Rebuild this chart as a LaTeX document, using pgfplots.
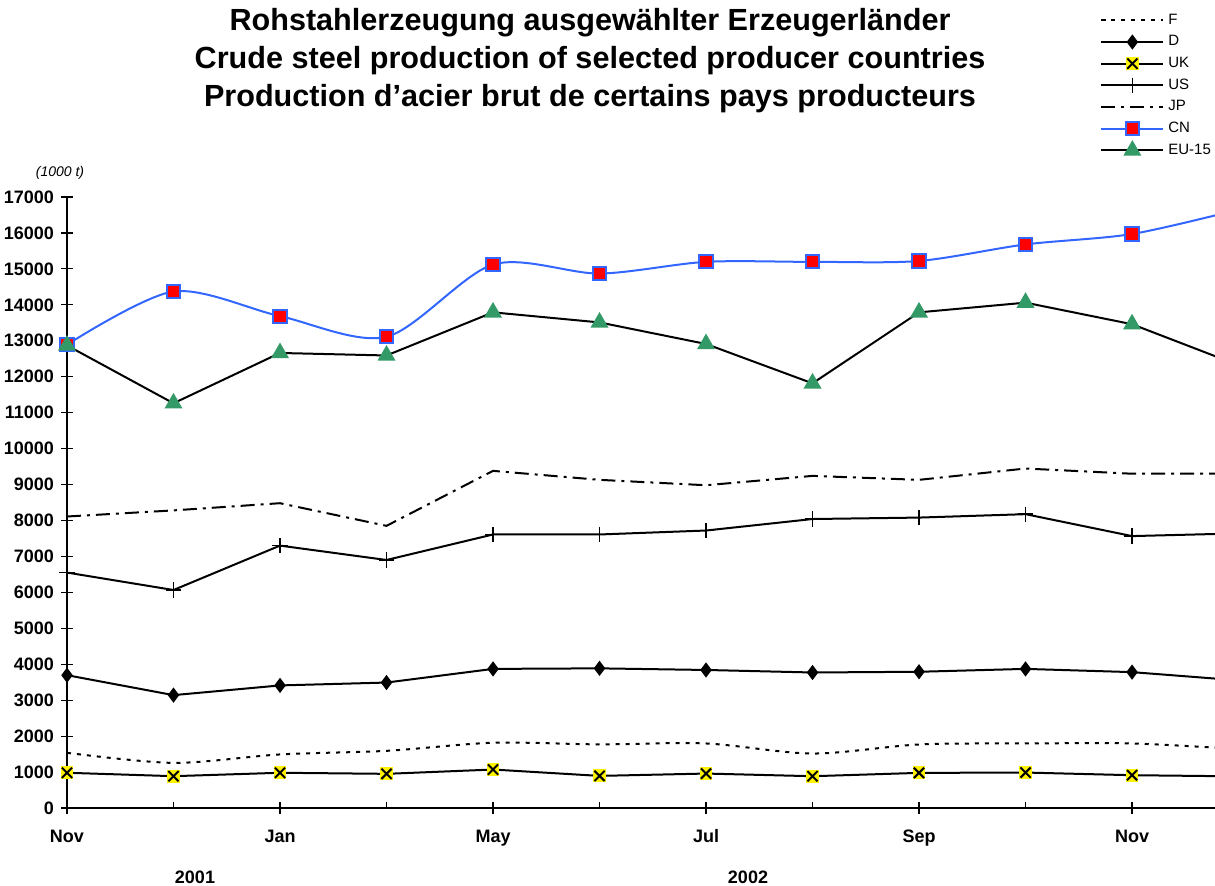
\documentclass[border=0pt]{standalone}
\usepackage{pgfplots}
\pgfplotsset{compat=1.18}
\usepackage{fontspec}
\setmainfont{Liberation Sans}
\definecolor{cnblue}{RGB}{51,102,255}
\definecolor{eugreen}{RGB}{51,153,102}
\pgfdeclareplotmark{ukmark}{%
  \pgfpathrectangle{\pgfqpoint{-\pgfplotmarksize}{-\pgfplotmarksize}}{\pgfqpoint{2\pgfplotmarksize}{2\pgfplotmarksize}}%
  \pgfsetfillcolor{yellow}\pgfusepathqfill
  \pgfsetstrokecolor{black}%
  \pgfpathmoveto{\pgfqpoint{-.8\pgfplotmarksize}{-.8\pgfplotmarksize}}%
  \pgfpathlineto{\pgfqpoint{.8\pgfplotmarksize}{.8\pgfplotmarksize}}%
  \pgfpathmoveto{\pgfqpoint{-.8\pgfplotmarksize}{.8\pgfplotmarksize}}%
  \pgfpathlineto{\pgfqpoint{.8\pgfplotmarksize}{-.8\pgfplotmarksize}}%
  \pgfusepathqstroke
}
\begin{document}
\begin{tikzpicture}
\path[use as bounding box] (0pt,0pt) rectangle (607.5pt,443pt);
\node[font=\bfseries\fontsize{15.3}{19}\selectfont, align=center] at (295pt,412.5pt)
 {Rohstahlerzeugung ausgewählter Erzeugerländer\\Crude steel production of selected producer countries\\Production d'acier brut de certains pays producteurs};
\node[font=\itshape\fontsize{7}{8}\selectfont] at (30pt,356.5pt) {(1000 t)};
\node[font=\bfseries\fontsize{9}{10}\selectfont] at (97.5pt,4.5pt) {2001};
\node[font=\bfseries\fontsize{9}{10}\selectfont] at (374pt,4.5pt) {2002};
\begin{axis}[
  at={(33.5pt,39pt)}, anchor=south west,
  scale only axis, width=574pt, height=305.5pt,
  xmin=0, xmax=10.779, ymin=0, ymax=17000,
  axis lines*=left,
  axis line style={line width=0.6pt},
  tick style={black, line width=0.6pt},
  tick align=center, major tick length=6pt,
  xtick={0,2,4,6,8,10},
  xticklabels={Nov,Jan,May,Jul,Sep,Nov},
  extra x ticks={1,3,5,7,9},
  extra x tick labels={},
  extra x tick style={tick align=inside, major tick length=3pt},
  ytick={0,1000,...,17000},
  scaled y ticks=false,
  /pgf/number format/assume math mode=true,
  /pgf/number format/1000 sep={},
  ticklabel style={font=\bfseries\fontsize{9}{10}\selectfont},
  xticklabel style={yshift=-3.5pt, text height=7pt, text depth=2pt},
  legend style={at={(0.8998,1.307)}, anchor=north west, draw=none, fill=none,
    font=\fontsize{7.5}{9}\selectfont, row sep=0.15pt, inner sep=0pt},
  legend cell align=left,
  legend image code/.code={\draw[mark repeat=2,mark phase=2] plot coordinates {(0pt,0pt) (15.5pt,0pt) (31pt,0pt)};},
]
\addplot[black, line width=1pt, smooth, dash pattern=on 2pt off 3pt] coordinates {
(0,1535)(1,1255)(2,1490)(3,1590)(4,1815)(5,1770)(6,1795)(7,1515)(8,1767)(9,1795)(10,1795)(11,1640)};
\addlegendentry{F}
\addplot[black, line width=1pt, mark=diamond*, mark size=3pt, mark options={solid, fill=black}] coordinates {
(0,3695)(1,3140)(2,3410)(3,3490)(4,3870)(5,3885)(6,3840)(7,3770)(8,3790)(9,3870)(10,3780)(11,3550)};
\addlegendentry{D}
\addplot[black, line width=1pt, mark=ukmark, mark size=3.2pt, mark options={solid, line width=1pt}] coordinates {
(0,980)(1,885)(2,980)(3,950)(4,1070)(5,893)(6,958)(7,884)(8,977)(9,986)(10,912)(11,880)};
\addlegendentry{UK}
\addplot[black, line width=1pt, mark=+, mark size=3.8pt, mark options={solid, line width=0.8pt}] coordinates {
(0,6550)(1,6065)(2,7300)(3,6900)(4,7610)(5,7610)(6,7720)(7,8040)(8,8080)(9,8175)(10,7565)(11,7640)};
\addlegendentry{US}
\addplot[black, line width=1pt, dash pattern=on 7pt off 3pt on 1.5pt off 3pt] coordinates {
(0,8110)(1,8280)(2,8480)(3,7850)(4,9380)(5,9130)(6,8980)(7,9240)(8,9130)(9,9445)(10,9300)(11,9300)};
\addlegendentry{JP}
\addplot[cnblue, line width=1pt, smooth, mark=square*, mark size=3.3pt, mark options={solid, fill=red, draw=cnblue, line width=1pt}] coordinates {
(0,12890)(1,14370)(2,13685)(3,13110)(4,15120)(5,14870)(6,15195)(7,15195)(8,15220)(9,15680)(10,15970)(11,16650)};
\addlegendentry{CN}
\addplot[black, line width=1pt, mark=triangle*, mark size=4.2pt, mark options={solid, fill=eugreen, draw=eugreen}] coordinates {
(0,12870)(1,11260)(2,12660)(3,12590)(4,13790)(5,13510)(6,12910)(7,11815)(8,13790)(9,14060)(10,13460)(11,12320)};
\addlegendentry{EU-15}
\end{axis}
\end{tikzpicture}
\end{document}
